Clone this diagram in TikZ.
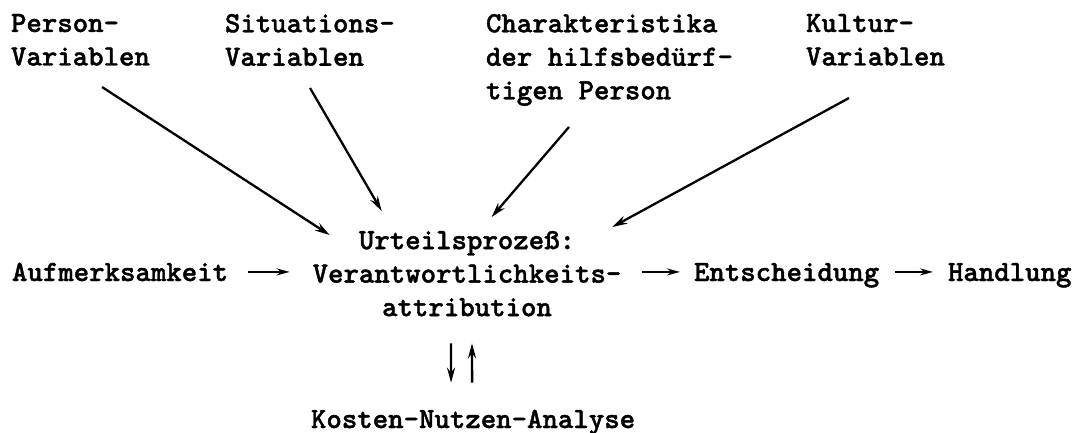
\documentclass[tikz,border=0pt]{standalone}
\usepackage{fontspec}
\newfontfamily\typewriter{lmmonolt10-bold.otf}[FakeBold=1.3]
\usetikzlibrary{calc,arrows.meta}
\tikzset{
  lbl/.style={font=\typewriter\fontsize{29.4}{33.5}\selectfont, inner sep=0pt, outer sep=0pt},
  arr/.style={-{Stealth[length=15pt,width=8.5pt]}, line width=2.3pt},
  harr/.style={-{Stealth[length=13pt,width=7pt]}, line width=1.9pt},
  varr/.style={-{Stealth[length=15pt,width=8pt]}, line width=2.4pt},
}
\begin{document}
\begin{tikzpicture}[x=1pt,y=-1pt]
\fill[white] (0,0) rectangle (1080,433);
\useasboundingbox (0,0) rectangle (1080,433);

% influencing variables
\node[lbl,align=left,anchor=north west] (person) at (11,14) {Person-\\Variablen};
\node[lbl,align=left,anchor=north west] (situ) at (225,14) {Situations-\\Variablen};
\node[lbl,align=left,anchor=north west] (charak) at (486,14) {Charakteristika\\der hilfsbedürf-\\tigen Person};
\node[lbl,align=left,anchor=north west] (kultur) at (806,14) {Kultur-\\Variablen};

% main sequence
\node[lbl,align=center,anchor=north] (proc) at (467,231) {Urteilsprozeß:\\Verantwortlichkeits-\\attribution};
\node[lbl,anchor=base west] (aufm) at (12,281) {Aufmerksamkeit};
\node[lbl,anchor=base west] (ents) at (694,281) {Entscheidung};
\node[lbl,anchor=base west] (hand) at (948,281) {Handlung};
\node[lbl,anchor=base west] (kosten) at (311,428) {Kosten-Nutzen-Analyse};

% influences on the judgement process
\draw[arr] ($(person.north west)+(91,73)$) -- ($(proc.north west)+(17,4)$);
\draw[arr] ($(situ.north west)+(85,74)$) -- ($(proc.north west)+(69,-20)$);
\draw[arr] ($(charak.north west)+(83,113)$) -- ($(proc.north west)+(179,-14)$);
\draw[arr] ($(kultur.north west)+(43,84)$) -- ($(proc.north east)+(-9,-4)$);

% sequence arrows
\draw[harr] ($(aufm.east)+(20,0)$) -- ($(proc.west |- aufm.east)+(-23,0)$);
\draw[harr] ($(proc.east |- aufm.east)+(21,0)$) -- ($(ents.west |- aufm.east)+(-14,0)$);
\draw[harr] ($(ents.east |- aufm.east)+(16,0)$) -- ($(hand.west |- aufm.east)+(-15,0)$);

% exchange with cost-benefit analysis
\draw[varr] ($(proc.south)+(-16,27)$) -- ($(kosten.north)+(-22,-27)$);
\draw[varr] ($(kosten.north)+(-1,-27)$) -- ($(proc.south)+(5,27)$);
\end{tikzpicture}
\end{document}
